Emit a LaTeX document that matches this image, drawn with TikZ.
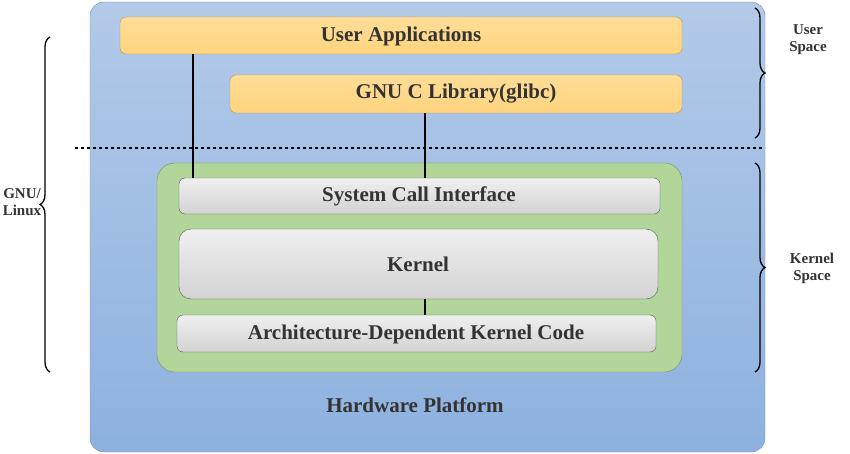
\documentclass[tikz,border=0pt]{standalone}
\usepackage{fontspec}
\setmainfont{Liberation Serif}
\usetikzlibrary{decorations.pathreplacing}
\definecolor{bluetop}{HTML}{B3CAE8}
\definecolor{bluebot}{HTML}{8DB1DF}
\definecolor{yel}{HTML}{FFD47E}
\definecolor{grn}{HTML}{A9D18E}
\begin{document}
\begin{tikzpicture}[x=1pt,y=-1pt,
  box/.style={rounded corners=6pt,draw=#1!70!black,line width=0.4pt},
  lbl/.style={font=\fontsize{21}{24}\selectfont\bfseries,text=black!80},
  sml/.style={font=\fontsize{15}{17}\selectfont\bfseries,align=center,text=black!80},
  br/.style={decorate,decoration={brace,amplitude=10pt},line width=1.3pt}]
\useasboundingbox (0,0) rectangle (850,454);
\shade[top color=bluetop,bottom color=bluebot,rounded corners=14pt,draw=bluebot!80!black] (90,2) rectangle (765,452);
\node[lbl] (hw) at (415,405) {Hardware Platform};
\shade[box=yel,top color=yel!80!white,bottom color=yel] (120,17) rectangle (682,54);
\node[lbl] (ua) at (401,36) {User Applications};
\coordinate (ua1) at (193,54);
\shade[box=yel,top color=yel!80!white,bottom color=yel] (230,75) rectangle (682,113);
\node[lbl] (glibc) at (456,94) {GNU C Library(glibc)};
\coordinate (gl1) at (425,113);
\draw[dashed,line width=1.2pt] (75,148) -- (765,148);
\fill[box=grn,fill=grn!90!white,rounded corners=18pt] (157,163) rectangle (682,372);
\shade[box=gray,top color=gray!12,bottom color=gray!35] (179,178) rectangle (660,214);
\node[lbl] (sci) at (419,196) {System Call Interface};
\shade[box=gray,top color=gray!12,bottom color=gray!35,rounded corners=12pt] (179,229) rectangle (658,299);
\node[lbl] (k) at (418,264) {Kernel};
\shade[box=gray,top color=gray!12,bottom color=gray!35] (177,315) rectangle (656,352);
\node[lbl] (arch) at (416,334) {Architecture-Dependent Kernel Code};
\coordinate (sci1) at (193,178);
\coordinate (sci2) at (425,178);
\coordinate (k1) at (425,299);
\coordinate (a1) at (425,315);
\draw[line width=1.8pt] (ua1) -- (sci1);
\draw[line width=1.8pt] (gl1) -- (sci2);
\draw[line width=1.8pt] (k1) -- (a1);
\draw[br] (50,372) -- (50,37);
\node[sml] (gnu) at (22,202) {GNU/\\Linux};
\draw[br] (755,8) -- (755,138);
\node[sml] (us) at (808,40) {User\\Space};
\draw[br] (755,163) -- (755,372);
\node[sml] (ks) at (812,268) {Kernel\\Space};
\end{tikzpicture}
\end{document}
